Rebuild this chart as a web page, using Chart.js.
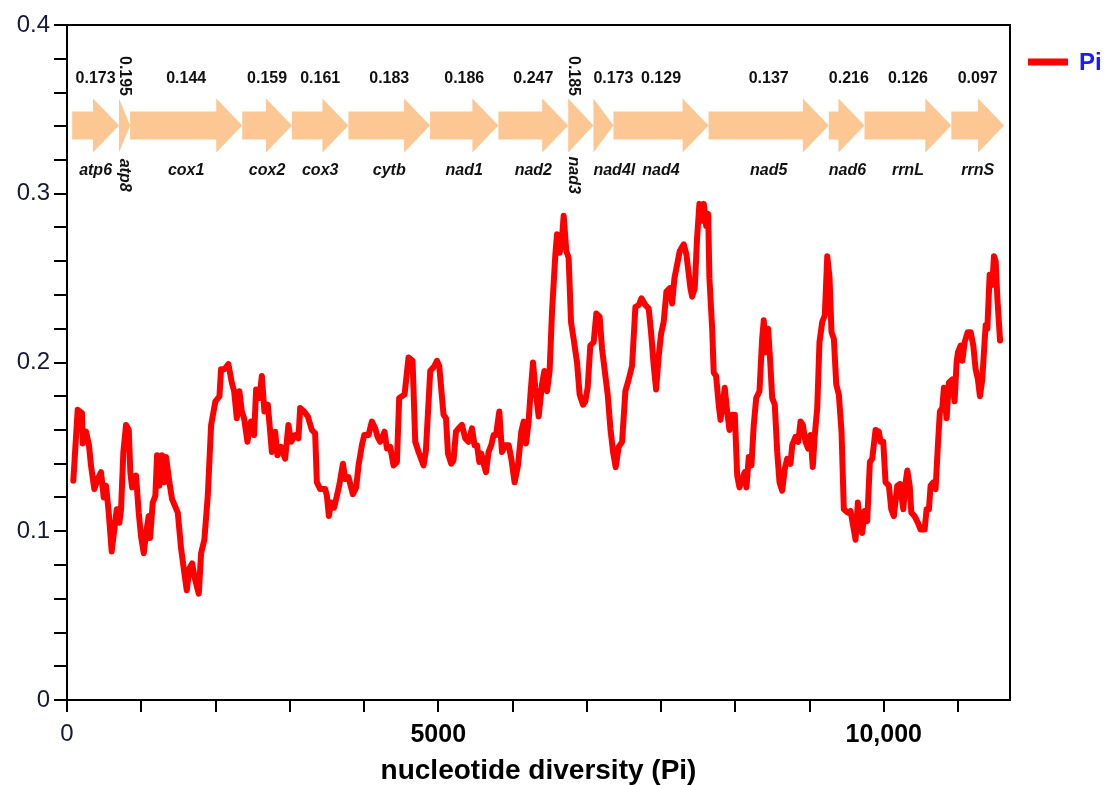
<!DOCTYPE html>
<html>
<head>
<meta charset="utf-8">
<script src="https://cdn.jsdelivr.net/npm/chart.js@4/dist/chart.umd.min.js"></script>
<style>
  html, body { margin: 0; padding: 0; background: #fff; }
  #wrap { width: 1105px; height: 785px; }
</style>
</head>
<body>
<div id="wrap"><canvas id="piChart" width="1105" height="785"></canvas></div>
<script>
// sliding window positions and Pi values
const positions = [
  85, 144, 202, 212, 256, 296, 323, 368, 414, 458, 495, 526, 562, 602, 637, 670, 705, 728, 759, 795,
  832, 853, 876, 930, 966, 997, 1034, 1065, 1101, 1119, 1155, 1190, 1213, 1244, 1280, 1311, 1334, 1379, 1415, 1492,
  1536, 1581, 1613, 1648, 1685, 1716, 1775, 1806, 1850, 1896, 1941, 1999, 2053, 2075, 2120, 2174, 2220, 2251, 2287, 2322,
  2354, 2385, 2430, 2476, 2520, 2547, 2592, 2624, 2659, 2705, 2736, 2759, 2803, 2834, 2880, 2938, 2982, 3019, 3073, 3117,
  3140, 3194, 3244, 3298, 3342, 3365, 3410, 3477, 3500, 3527, 3558, 3598, 3635, 3670, 3716, 3747, 3791, 3850, 3895, 3926,
  3972, 4003, 4061, 4106, 4151, 4182, 4218, 4249, 4276, 4309, 4353, 4398, 4443, 4474, 4546, 4600, 4654, 4690, 4735, 4802,
  4834, 4892, 4950, 4982, 5013, 5071, 5104, 5131, 5175, 5206, 5238, 5274, 5319, 5364, 5408, 5454, 5489, 5522, 5553, 5580,
  5611, 5643, 5678, 5714, 5745, 5778, 5822, 5858, 5903, 5948, 5984, 6028, 6074, 6118, 6150, 6182, 6217, 6240, 6276, 6307,
  6352, 6397, 6429, 6465, 6500, 6532, 6577, 6600, 6635, 6667, 6689, 6725, 6756, 6788, 6823, 6869, 6904, 6950, 6981, 7012,
  7048, 7093, 7129, 7174, 7206, 7251, 7282, 7318, 7354, 7390, 7430, 7476, 7520, 7565, 7610, 7655, 7700, 7736, 7790, 7834,
  7866, 7902, 7934, 7969, 8001, 8036, 8073, 8117, 8150, 8181, 8217, 8252, 8306, 8342, 8396, 8419, 8454, 8486, 8517, 8554,
  8576, 8608, 8635, 8652, 8689, 8710, 8742, 8777, 8801, 8832, 8858, 8891, 8922, 8958, 8994, 9026, 9057, 9093, 9128, 9151,
  9182, 9218, 9249, 9282, 9326, 9362, 9384, 9407, 9443, 9474, 9497, 9532, 9565, 9596, 9632, 9667, 9699, 9744, 9767, 9811,
  9848, 9879, 9910, 9946, 9982, 10013, 10044, 10071, 10104, 10134, 10171, 10206, 10239, 10270, 10296, 10328, 10360, 10395, 10431, 10462,
  10516, 10552, 10589, 10620, 10651, 10678, 10710, 10741, 10777, 10813, 10845, 10889, 10934, 10957, 10993, 11024, 11069, 11101, 11136, 11182,
  11217, 11263, 11294, 11317, 11349, 11371, 11415, 11460, 11496, 11550, 11577, 11608, 11631, 11667, 11698, 11729, 11756, 11788, 11810, 11846,
  11877, 11923, 11954, 11981, 11999, 12035, 12058, 12089, 12130, 12170, 12206, 12237, 12268, 12295, 12327, 12349, 12372, 12395, 12426, 12462,
  12484, 12507, 12530, 12566
];
const piValues = [
  0.130, 0.172, 0.170, 0.152, 0.159, 0.151, 0.139, 0.125, 0.131, 0.135, 0.120, 0.127, 0.111, 0.088, 0.101, 0.113, 0.105, 0.113, 0.147, 0.163,
  0.160, 0.135, 0.126, 0.133, 0.111, 0.097, 0.087, 0.099, 0.109, 0.096, 0.117, 0.121, 0.145, 0.127, 0.145, 0.129, 0.144, 0.129, 0.119, 0.111,
  0.090, 0.075, 0.065, 0.078, 0.081, 0.073, 0.063, 0.087, 0.095, 0.121, 0.163, 0.177, 0.180, 0.196, 0.196, 0.199, 0.188, 0.183, 0.167, 0.183,
  0.171, 0.167, 0.153, 0.165, 0.157, 0.184, 0.179, 0.192, 0.171, 0.175, 0.159, 0.147, 0.159, 0.145, 0.150, 0.143, 0.163, 0.153, 0.157, 0.155,
  0.173, 0.171, 0.168, 0.160, 0.158, 0.129, 0.125, 0.125, 0.121, 0.109, 0.117, 0.114, 0.121, 0.128, 0.140, 0.131, 0.132, 0.122, 0.126, 0.139,
  0.151, 0.157, 0.157, 0.165, 0.161, 0.156, 0.153, 0.156, 0.159, 0.149, 0.150, 0.139, 0.141, 0.179, 0.181, 0.203, 0.201, 0.153, 0.147, 0.139,
  0.148, 0.195, 0.198, 0.201, 0.198, 0.169, 0.167, 0.146, 0.140, 0.142, 0.159, 0.161, 0.163, 0.155, 0.153, 0.161, 0.151, 0.151, 0.141, 0.146,
  0.140, 0.135, 0.147, 0.151, 0.157, 0.157, 0.171, 0.147, 0.151, 0.151, 0.143, 0.129, 0.139, 0.159, 0.165, 0.152, 0.165, 0.180, 0.200, 0.185,
  0.168, 0.187, 0.195, 0.183, 0.195, 0.230, 0.264, 0.276, 0.265, 0.274, 0.287, 0.266, 0.262, 0.224, 0.214, 0.200, 0.181, 0.175, 0.177, 0.185,
  0.210, 0.212, 0.229, 0.227, 0.208, 0.192, 0.181, 0.161, 0.147, 0.138, 0.150, 0.153, 0.183, 0.190, 0.198, 0.233, 0.234, 0.238, 0.234, 0.232,
  0.218, 0.198, 0.184, 0.204, 0.217, 0.224, 0.242, 0.244, 0.235, 0.250, 0.258, 0.266, 0.270, 0.264, 0.244, 0.239, 0.244, 0.274, 0.294, 0.284,
  0.294, 0.281, 0.288, 0.250, 0.220, 0.194, 0.192, 0.175, 0.166, 0.175, 0.185, 0.171, 0.160, 0.169, 0.169, 0.133, 0.126, 0.131, 0.135, 0.126,
  0.144, 0.139, 0.163, 0.179, 0.183, 0.214, 0.225, 0.206, 0.220, 0.198, 0.179, 0.175, 0.147, 0.129, 0.124, 0.137, 0.143, 0.140, 0.151, 0.156,
  0.153, 0.165, 0.163, 0.153, 0.149, 0.157, 0.138, 0.157, 0.173, 0.212, 0.224, 0.228, 0.263, 0.250, 0.218, 0.214, 0.187, 0.181, 0.159, 0.113,
  0.111, 0.112, 0.103, 0.095, 0.117, 0.103, 0.099, 0.112, 0.106, 0.141, 0.143, 0.160, 0.159, 0.153, 0.153, 0.129, 0.127, 0.113, 0.109, 0.127,
  0.128, 0.113, 0.129, 0.136, 0.127, 0.111, 0.109, 0.105, 0.101, 0.101, 0.113, 0.113, 0.127, 0.129, 0.125, 0.151, 0.171, 0.173, 0.185, 0.167,
  0.188, 0.190, 0.177, 0.200, 0.206, 0.210, 0.201, 0.212, 0.218, 0.218, 0.210, 0.196, 0.190, 0.180, 0.190, 0.206, 0.222, 0.220, 0.252, 0.246,
  0.263, 0.260, 0.238, 0.213
];

// genes along the axis and their Pi
const geneNames = ['atp6', 'atp8', 'cox1', 'cox2', 'cox3', 'cytb', 'nad1', 'nad2', 'nad3', 'nad4l', 'nad4', 'nad5', 'nad6', 'rrnL', 'rrnS'];
const geneStart = [70, 700, 850, 2360, 3030, 3790, 4890, 5810, 6750, 7090, 7360, 8640, 10260, 10740, 11910];
const geneEnd = [700, 850, 2360, 3030, 3790, 4890, 5810, 6750, 7090, 7360, 8640, 10260, 10740, 11910, 12620];
const genePi = ['0.173', '0.195', '0.144', '0.159', '0.161', '0.183', '0.186', '0.247', '0.185', '0.173', '0.129', '0.137', '0.216', '0.126', '0.097'];
const verticalLabelGenes = ['atp8', 'nad3'];

// x tick marks, and the few that carry a label (as printed in the figure)
const xTicks = [0, 1000, 2000, 3000, 4000, 5000, 6000, 7000, 8000, 9000, 10000, 11000, 12000];
const xTickLabels = { 0: '0', 5000: '5000', 11000: '10,000' };

const FONT = '"Liberation Sans", Arial, Helvetica, sans-serif';
const NAVY = '#141a36';

function drawArrow(ctx, x0, x1, yc) {
    const head = Math.min(26, x1 - x0);
    const bodyH = 14, headH = 27;
    ctx.beginPath();
    ctx.moveTo(x0, yc - bodyH);
    ctx.lineTo(x1 - head, yc - bodyH);
    ctx.lineTo(x1 - head, yc - headH);
    ctx.lineTo(x1, yc);
    ctx.lineTo(x1 - head, yc + headH);
    ctx.lineTo(x1 - head, yc + bodyH);
    ctx.lineTo(x0, yc + bodyH);
    ctx.closePath();
    ctx.fill();
}

function drawLabel(ctx, text, x0, x1, yc, vertical) {
    if (vertical) {
        ctx.save();
        ctx.translate(x0 + 5, yc);
        ctx.rotate(Math.PI / 2);
        ctx.fillText(text, 0, 0);
        ctx.restore();
        return;
    }
    const w = ctx.measureText(text).width;
    const cx = Math.max((x0 + x1) / 2, x0 + w / 2);
    ctx.fillText(text, cx, yc);
}

const genePlugin = {
    id: 'genes',
    afterDatasetsDraw(chart) {
        const { ctx, scales: { x, y } } = chart;
        const arrowY = y.getPixelForValue(0.3405);
        const valueY = y.getPixelForValue(0.368);
        const nameY = y.getPixelForValue(0.314);
        ctx.save();
        ctx.textAlign = 'center';
        ctx.textBaseline = 'middle';
        geneNames.forEach((name, i) => {
            const x0 = x.getPixelForValue(geneStart[i]);
            const x1 = x.getPixelForValue(geneEnd[i]);
            const vertical = verticalLabelGenes.includes(name);
            ctx.fillStyle = '#fcc793';
            drawArrow(ctx, x0, x1, arrowY);
            ctx.fillStyle = '#111';
            ctx.font = 'bold 16px ' + FONT;
            drawLabel(ctx, genePi[i], x0, x1, vertical ? valueY - 3 : valueY, vertical);
            ctx.font = 'italic bold 16px ' + FONT;
            drawLabel(ctx, name, x0, x1, vertical ? nameY + 5 : nameY, vertical);
        });
        ctx.restore();
    }
};

// top and right sides of the box
const framePlugin = {
    id: 'frame',
    afterDraw(chart) {
        const { ctx, chartArea: a } = chart;
        ctx.save();
        ctx.strokeStyle = '#000';
        ctx.lineWidth = 2;
        ctx.beginPath();
        ctx.moveTo(a.left, a.top);
        ctx.lineTo(a.right, a.top);
        ctx.lineTo(a.right, a.bottom);
        ctx.stroke();
        ctx.restore();
    }
};

const legendPlugin = {
    id: 'sideLegend',
    afterDraw(chart) {
        const { ctx, chartArea: a } = chart;
        const ds = chart.data.datasets[0];
        const yc = a.top + 37;
        ctx.save();
        ctx.strokeStyle = ds.borderColor;
        ctx.lineWidth = 7;
        ctx.beginPath();
        ctx.moveTo(a.right + 18, yc);
        ctx.lineTo(a.right + 58, yc);
        ctx.stroke();
        ctx.fillStyle = '#1b1bf5';
        ctx.font = 'bold 24px ' + FONT;
        ctx.textAlign = 'left';
        ctx.textBaseline = 'middle';
        ctx.fillText(ds.label, a.right + 69, yc + 1);
        ctx.restore();
    }
};

new Chart(document.getElementById('piChart'), {
    type: 'line',
    data: {
        datasets: [{
            label: 'Pi',
            data: positions.map((p, i) => ({ x: p, y: piValues[i] })),
            borderColor: '#ff0000',
            borderWidth: 6,
            pointRadius: 0,
            tension: 0,
            fill: false,
            borderJoinStyle: 'round',
            borderCapStyle: 'round'
        }]
    },
    options: {
        responsive: false,
        animation: false,
        devicePixelRatio: 1,
        layout: { padding: { left: 0, right: 95, top: 25, bottom: 0 } },
        plugins: { legend: { display: false }, tooltip: { enabled: false } },
        scales: {
            x: {
                type: 'linear',
                min: 0,
                max: 12700,
                afterFit(s) { s.height = 85; },
                afterBuildTicks(s) { s.ticks = xTicks.map(v => ({ value: v })); },
                ticks: {
                    autoSkip: false,
                    maxRotation: 0,
                    padding: 8,
                    callback: v => xTickLabels[v] ?? '',
                    font: c => (c.tick && c.tick.value === 0)
                        ? { family: FONT, size: 24, weight: 'normal' }
                        : { family: FONT, size: 25, weight: 'bold' },
                    color: c => (c.tick && c.tick.value === 0) ? NAVY : '#000'
                },
                grid: { drawOnChartArea: false, drawTicks: true, tickLength: 12, color: '#000', lineWidth: 2 },
                border: { color: '#000', width: 2 },
                title: {
                    display: true,
                    text: 'nucleotide diversity (Pi)',
                    color: '#000',
                    font: { family: FONT, size: 28, weight: 'bold', lineHeight: 1 },
                    padding: { top: 0, bottom: 0 }
                }
            },
            y: {
                min: 0,
                max: 0.4,
                afterFit(s) { s.width = 67; },
                ticks: {
                    stepSize: 0.02,
                    autoSkip: false,
                    padding: 4,
                    color: NAVY,
                    font: { family: FONT, size: 24 },
                    callback: v => {
                        const n = Math.round(v * 100);
                        if (n % 10 !== 0) return '';
                        return n === 0 ? '0' : (n / 100).toFixed(1);
                    }
                },
                grid: { drawOnChartArea: false, drawTicks: true, tickLength: 13, color: '#000', lineWidth: 2 },
                border: { color: '#000', width: 2 }
            }
        }
    },
    plugins: [genePlugin, framePlugin, legendPlugin]
});
</script>
</body>
</html>
